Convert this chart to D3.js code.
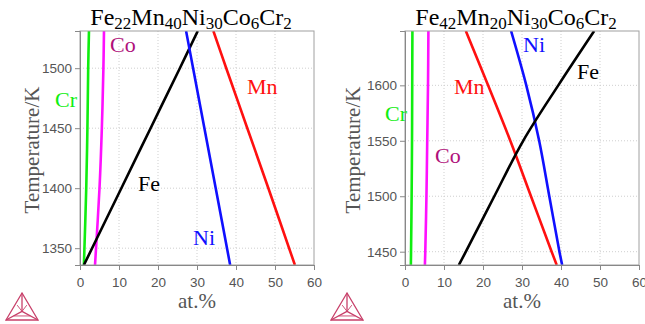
<!DOCTYPE html>
<html>
<head>
<meta charset="utf-8">
<script src="https://cdn.jsdelivr.net/npm/d3@7"></script>
<style>
  html, body { margin: 0; padding: 0; background: #fff; }
  svg { display: block; }
  .serif { font-family: "Liberation Serif", "DejaVu Serif", serif; }
  .sans { font-family: "Liberation Sans", Arial, sans-serif; }
</style>
</head>
<body>
<svg id="chart" width="645" height="324"></svg>
<script>
// ---- Panel 1: Fe22Mn40Ni30Co6Cr2 ----
const leftTemps = [1336, 1400, 1450, 1500, 1531];
const leftFe = [1.0, 10.6, 18.1, 25.6, 30.2];
const leftNi = [38.5, 34.8, 31.9, 29.0, 27.2];
const leftMn = [55.1, 48.3, 42.9, 37.5, 34.2];
const leftCo = [3.85, 5.0, 5.6, 6.0, 6.15];
const leftCr = [1.0, 1.6, 1.9, 2.1, 2.3];
const leftYTicks = [1350, 1400, 1450, 1500];

// ---- Panel 2: Fe42Mn20Ni30Co6Cr2 ----
const rightTemps = [1438, 1450, 1500, 1550, 1600, 1649];
const rightFe = [13.8, 15.6, 22.9, 30.3, 39.3, 48.5];
const rightNi = [40.3, 39.6, 37.0, 34.4, 31.1, 27.2];
const rightMn = [38.9, 37.6, 32.3, 27.0, 21.3, 15.6];
const rightCo = [5.1, 5.2, 5.5, 5.7, 5.9, 6.0];
const rightCr = [1.5, 1.55, 1.7, 1.8, 1.85, 1.9];
const rightYTicks = [1450, 1500, 1550, 1600];

const xTicks = [0, 10, 20, 30, 40, 50, 60];

const colors = { Fe: "#000000", Ni: "#1010ff", Mn: "#ff1010", Co: "#ff10ff", Cr: "#10ee10" };
const labelColors = { Fe: "#000000", Ni: "#1010ff", Mn: "#ff1010", Co: "#b0107a", Cr: "#10ee10" };

const svg = d3.select("#chart");

function drawPanel(cfg) {
  const x = d3.scaleLinear().domain([0, 60]).range([cfg.x0, cfg.x1]);
  const y = d3.scaleLinear().domain(cfg.tDomain).range([265, 31]);
  const g = svg.append("g");

  // grid
  g.append("g").selectAll("line").data(xTicks.slice(1, -1)).join("line")
    .attr("x1", d => x(d)).attr("x2", d => x(d)).attr("y1", 31).attr("y2", 265)
    .attr("stroke", "#cfcfcf").attr("stroke-dasharray", "1,2");
  g.append("g").selectAll("line").data(cfg.yTicks).join("line")
    .attr("x1", cfg.x0).attr("x2", cfg.x1).attr("y1", d => y(d)).attr("y2", d => y(d))
    .attr("stroke", "#cfcfcf").attr("stroke-dasharray", "1,2");

  // series
  const clipId = "clip" + cfg.id;
  svg.append("clipPath").attr("id", clipId).append("rect")
    .attr("x", cfg.x0).attr("y", 31).attr("width", cfg.x1 - cfg.x0).attr("height", 234);
  const line = d3.line().x(d => x(d[0])).y(d => y(d[1])).curve(d3.curveCatmullRom.alpha(0.5));
  const lg = g.append("g").attr("clip-path", `url(#${clipId})`);
  cfg.series.forEach(s => {
    const pts = s.values.map((v, i) => [v, cfg.temps[i]]);
    lg.append("path").attr("d", line(pts)).attr("fill", "none")
      .attr("stroke", colors[s.name]).attr("stroke-width", 2.6);
  });

  // frame
  g.append("rect").attr("x", cfg.x0).attr("y", 31).attr("width", cfg.x1 - cfg.x0).attr("height", 234)
    .attr("fill", "none").attr("stroke", "#a0a0a0").attr("stroke-width", 1);

  // axes
  const xAxis = d3.axisBottom(x).tickValues(xTicks).tickSize(5).tickPadding(4);
  const xg = g.append("g").attr("transform", "translate(0,265)").call(xAxis);
  const yAxis = d3.axisLeft(y).tickValues(cfg.yTicks).tickFormat(d3.format("d")).tickSize(5).tickPadding(3);
  const yg = g.append("g").attr("transform", `translate(${cfg.x0},0)`).call(yAxis);
  [xg, yg].forEach(a => {
    a.attr("font-family", null).attr("font-size", null);
    a.select(".domain").attr("stroke", "#888");
    a.selectAll(".tick line").attr("stroke", "#888");
    a.selectAll("text").attr("fill", "#555").attr("class", "sans").attr("font-size", 13.5);
  });
  xg.selectAll("text").attr("dy", "0.95em");

  // title with subscripts
  const t = g.append("text").attr("class", "serif").attr("x", (cfg.x0 + cfg.x1) / 2 - 6).attr("y", 25)
    .attr("text-anchor", "middle").attr("font-size", 24).attr("fill", "#000");
  cfg.title.forEach(([el, n], i) => {
    t.append("tspan").attr("font-size", 24).attr("dy", i === 0 ? 0 : -4).text(el);
    t.append("tspan").attr("font-size", 17).attr("dy", 4).text(n);
  });

  // axis titles
  g.append("text").attr("class", "serif").attr("transform", `translate(${cfg.yLabelX},150) rotate(-90)`)
    .attr("text-anchor", "middle").attr("font-size", 21)
    .attr("fill", "#555").text("Temperature/K");
  g.append("text").attr("class", "serif").attr("x", (cfg.x0 + cfg.x1) / 2).attr("y", 308)
    .attr("text-anchor", "middle").attr("font-size", 21)
    .attr("fill", "#555").text("at.%");

  // series labels
  cfg.labels.forEach(l => {
    g.append("text").attr("class", "serif").attr("x", l.x).attr("y", l.y)
      .attr("font-size", 22).attr("fill", labelColors[l.name]).text(l.name);
  });

  // logo
  const lx = cfg.logoX, ly = 293, w = 32, h = 27;
  const A = [lx + w / 2, ly], B = [lx, ly + h], C = [lx + w, ly + h], O = [lx + w / 2, ly + h * 0.68];
  const lgo = g.append("g").attr("stroke", "#c8406a").attr("fill", "none").attr("stroke-width", 1.3);
  lgo.append("path").attr("d", `M${A}L${B}L${C}Z`);
  lgo.append("path").attr("d", `M${A}L${O}M${B}L${O}M${C}L${O}`);
  const inner = [[lx + w * 0.35, ly + h * 0.45], [lx + w * 0.65, ly + h * 0.45], [lx + w * 0.24, ly + h * 0.85], [lx + w * 0.76, ly + h * 0.85]];
  lgo.append("path").attr("d", `M${inner[0]}L${O}L${inner[1]}M${inner[2]}L${inner[3]}`).attr("stroke-width", 0.9);
}

drawPanel({
  id: "L", x0: 80, x1: 314, tDomain: [1336, 1531], yTicks: leftYTicks, temps: leftTemps,
  series: [
    { name: "Cr", values: leftCr }, { name: "Co", values: leftCo },
    { name: "Fe", values: leftFe }, { name: "Ni", values: leftNi }, { name: "Mn", values: leftMn }
  ],
  title: [["Fe", "22"], ["Mn", "40"], ["Ni", "30"], ["Co", "6"], ["Cr", "2"]],
  yLabelX: 39, logoX: 6,
  labels: [
    { name: "Co", x: 110, y: 52 }, { name: "Cr", x: 55, y: 107 }, { name: "Mn", x: 247, y: 94 },
    { name: "Fe", x: 138, y: 191 }, { name: "Ni", x: 193, y: 245 }
  ]
});

drawPanel({
  id: "R", x0: 405, x1: 639, tDomain: [1438, 1649], yTicks: rightYTicks, temps: rightTemps,
  series: [
    { name: "Cr", values: rightCr }, { name: "Co", values: rightCo },
    { name: "Mn", values: rightMn }, { name: "Ni", values: rightNi }, { name: "Fe", values: rightFe }
  ],
  title: [["Fe", "42"], ["Mn", "20"], ["Ni", "30"], ["Co", "6"], ["Cr", "2"]],
  yLabelX: 360, logoX: 331,
  labels: [
    { name: "Ni", x: 523, y: 52 }, { name: "Fe", x: 577, y: 79 }, { name: "Mn", x: 454, y: 94 },
    { name: "Cr", x: 385, y: 121 }, { name: "Co", x: 435, y: 163 }
  ]
});
</script>
</body>
</html>
